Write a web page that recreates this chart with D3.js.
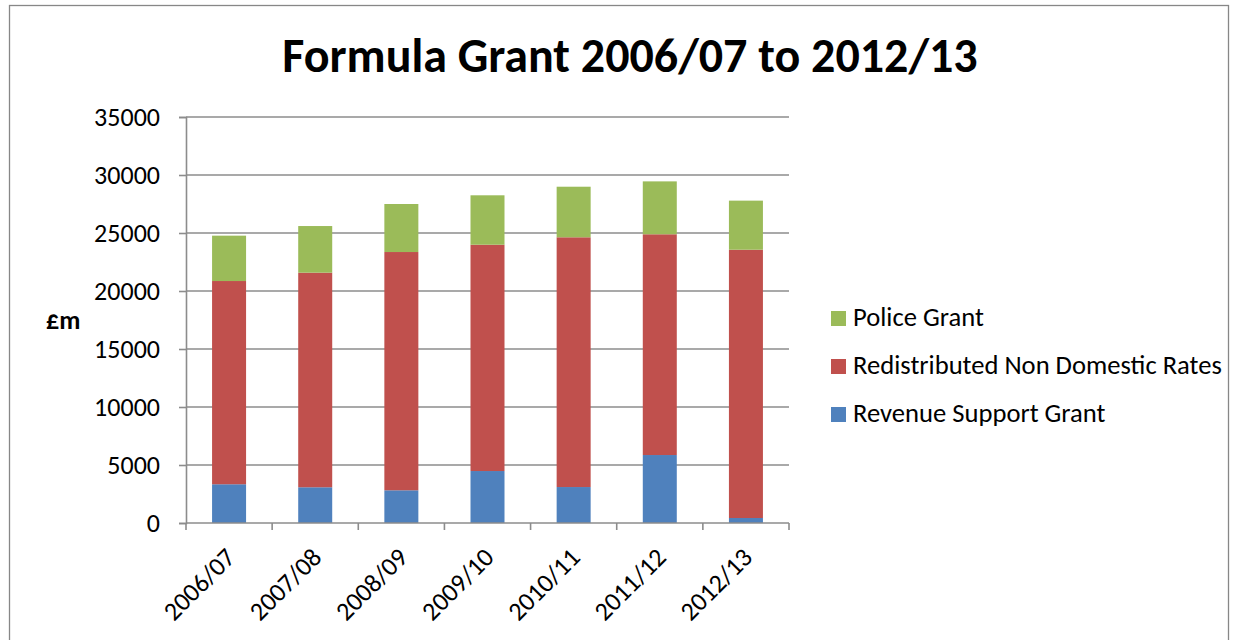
<!DOCTYPE html>
<html>
<head>
<meta charset="utf-8">
<script src="https://cdn.jsdelivr.net/npm/d3@7"></script>
<style>
	body { margin: 0; background: #fff; }
	svg { display: block; }
</style>
</head>
<body>
<svg id="chart" width="1234" height="640"></svg>
<script>
	'use strict';

	const years = ['2006/07', '2007/08', '2008/09', '2009/10', '2010/11', '2011/12', '2012/13'];
	const revenueSupport = [3340, 3080, 2820, 4480, 3100, 5860, 430];
	const nonDomesticRates = [17520, 18500, 20540, 19510, 21530, 19030, 23130];
	const policeGrant = [3910, 4020, 4140, 4260, 4360, 4560, 4230];
	const seriesNames = ['Revenue Support Grant', 'Redistributed Non Domestic Rates', 'Police Grant'];
	const yTicks = [0, 5000, 10000, 15000, 20000, 25000, 30000, 35000];

	(function() {
		const colors = ['#4f81bd', '#c0504d', '#9bbb59'];
		const font = 'Carlito, Calibri, "Open Sans", sans-serif';

		const svg = d3.select('#chart');
		const plotLeft = 186, plotRight = 789, plotTop = 117, plotBottom = 523;

		// outer chart frame
		svg.append('rect')
			.attr('x', 9.5).attr('y', 5.5)
			.attr('width', 1219).attr('height', 660)
			.attr('fill', 'none').attr('stroke', '#878787').attr('stroke-width', 1.3);

		svg.append('text')
			.attr('x', 630).attr('y', 72)
			.attr('text-anchor', 'middle')
			.attr('font-family', font).attr('font-weight', 'bold').attr('font-size', 48)
			.text('Formula Grant 2006/07 to 2012/13');

		const x = d3.scaleBand().domain(years).range([plotLeft, plotRight]);
		const y = d3.scaleLinear().domain([0, 35000]).range([plotBottom, plotTop]);

		// gridlines
		svg.append('g').selectAll('line')
			.data(yTicks.filter(d => d > 0))
			.enter().append('line')
			.attr('x1', plotLeft).attr('x2', plotRight)
			.attr('y1', d => y(d)).attr('y2', d => y(d))
			.attr('stroke', '#8c8c8c').attr('stroke-width', 1.6);

		const rows = years.map((yr, i) => ({
			year: yr,
			rsg: revenueSupport[i],
			nndr: nonDomesticRates[i],
			police: policeGrant[i]
		}));
		const stack = d3.stack().keys(['rsg', 'nndr', 'police'])(rows);

		const barW = 34;
		svg.append('g').selectAll('g')
			.data(stack)
			.enter().append('g')
			.attr('fill', (d, i) => colors[i])
			.selectAll('rect')
			.data(d => d)
			.enter().append('rect')
			.attr('x', d => x(d.data.year) + x.bandwidth() / 2 - barW / 2)
			.attr('width', barW)
			.attr('y', d => y(d[1]))
			.attr('height', d => y(d[0]) - y(d[1]));

		// y axis
		const yAxis = svg.append('g')
			.attr('transform', 'translate(' + plotLeft + ',0)')
			.call(d3.axisLeft(y).tickValues(yTicks).tickSize(7).tickPadding(19).tickFormat(d3.format('d')));
		yAxis.select('.domain').attr('stroke', '#8c8c8c').attr('stroke-width', 1.6);
		yAxis.selectAll('.tick line').attr('stroke', '#8c8c8c').attr('stroke-width', 1.6);
		yAxis.selectAll('text')
			.attr('font-family', font).attr('font-size', 26).attr('fill', '#000');

		// x axis with ticks at band edges
		const xAxis = svg.append('g').attr('transform', 'translate(0,' + plotBottom + ')');
		xAxis.append('line')
			.attr('x1', plotLeft).attr('x2', plotRight)
			.attr('stroke', '#8c8c8c').attr('stroke-width', 1.6);
		xAxis.selectAll('.edge')
			.data(years.concat(['end']))
			.enter().append('line')
			.attr('class', 'edge')
			.attr('x1', (d, i) => plotLeft + i * x.bandwidth())
			.attr('x2', (d, i) => plotLeft + i * x.bandwidth())
			.attr('y1', 0).attr('y2', 7)
			.attr('stroke', '#8c8c8c').attr('stroke-width', 1.6);
		xAxis.selectAll('.lbl')
			.data(years)
			.enter().append('text')
			.attr('class', 'lbl')
			.attr('transform', d => 'translate(' + (x(d) + x.bandwidth() / 2 - 5) + ',23) rotate(-45)')
			.attr('text-anchor', 'end')
			.attr('dy', '0.7em')
			.attr('font-family', font).attr('font-size', 26)
			.text(d => d);

		svg.append('text')
			.attr('x', 46).attr('y', 329)
			.attr('font-family', font).attr('font-weight', 'bold').attr('font-size', 26)
			.text('£m');

		// legend, top entry is the top of the stack
		const legend = svg.append('g').selectAll('g')
			.data(seriesNames.map((n, i) => ({ name: n, color: colors[i] })).reverse())
			.enter().append('g')
			.attr('transform', (d, i) => 'translate(831,' + (311 + i * 48) + ')');
		legend.append('rect')
			.attr('x', 0).attr('y', 0).attr('width', 15).attr('height', 15)
			.attr('fill', d => d.color);
		legend.append('text')
			.attr('x', 22).attr('y', 15)
			.attr('font-family', font).attr('font-size', 26.6)
			.text(d => d.name);
	})();
</script>
</body>
</html>
